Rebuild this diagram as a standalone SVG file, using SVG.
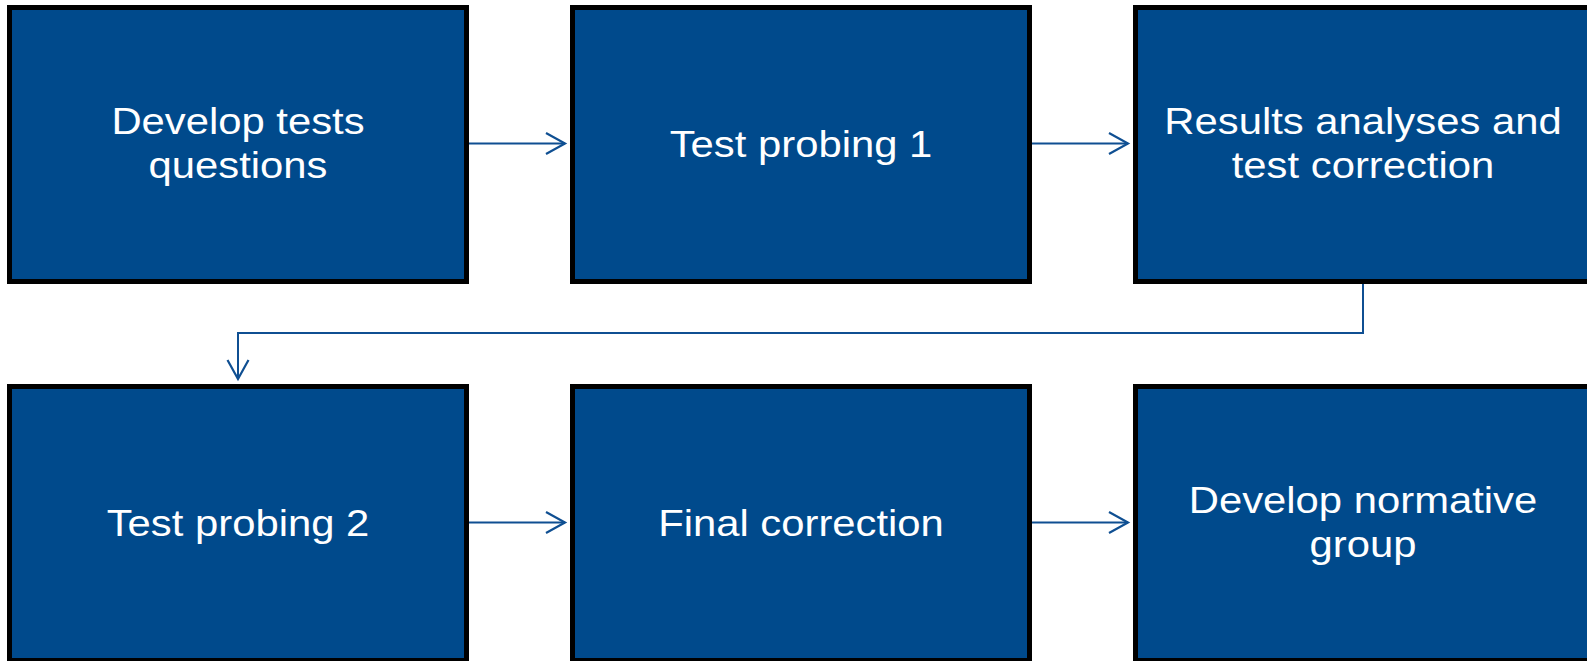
<svg xmlns="http://www.w3.org/2000/svg" width="1587" height="661" viewBox="0 0 1587 661">
<style>
.box{fill:#004A8C;stroke:#000;stroke-width:5}
.lbl{fill:#fff;font-family:"Liberation Sans",Arial,sans-serif;font-size:37px;text-anchor:middle}
.con{fill:none;stroke:#0F4F92;stroke-width:2}
</style>
<defs>
<marker id="ah" markerUnits="userSpaceOnUse" markerWidth="24" markerHeight="26" viewBox="-21 -12 24 24" refX="0" refY="0" orient="auto">
<path d="M-19,-10.5 L0,0 L-19,10.5" fill="none" stroke="#0F4F92" stroke-width="2.2"/>
</marker>
</defs>
<rect width="1587" height="661" fill="#fff"/>
<g id="connectors">
<line class="con" x1="469" y1="143.5" x2="565" y2="143.5" marker-end="url(#ah)"/>
<line class="con" x1="1032" y1="143.5" x2="1128" y2="143.5" marker-end="url(#ah)"/>
<polyline class="con" points="1363,284 1363,333 238,333 238,379" marker-end="url(#ah)"/>
<line class="con" x1="469" y1="522.5" x2="565" y2="522.5" marker-end="url(#ah)"/>
<line class="con" x1="1032" y1="522.5" x2="1128" y2="522.5" marker-end="url(#ah)"/>
</g>
<g id="n1">
<rect class="box" x="9.5" y="7.5" width="457" height="274"/>
<text class="lbl" transform="translate(238,134) scale(1.13,1)">Develop tests</text>
<text class="lbl" transform="translate(238,178) scale(1.13,1)">questions</text>
</g>
<g id="n2">
<rect class="box" x="572.5" y="7.5" width="457" height="274"/>
<text class="lbl" transform="translate(801,157) scale(1.13,1)">Test probing 1</text>
</g>
<g id="n3">
<rect class="box" x="1135.5" y="7.5" width="457" height="274"/>
<text class="lbl" transform="translate(1363,134) scale(1.13,1)">Results analyses and</text>
<text class="lbl" transform="translate(1363,178) scale(1.13,1)">test correction</text>
</g>
<g id="n4">
<rect class="box" x="9.5" y="386.5" width="457" height="274"/>
<text class="lbl" transform="translate(238,536) scale(1.13,1)">Test probing 2</text>
</g>
<g id="n5">
<rect class="box" x="572.5" y="386.5" width="457" height="274"/>
<text class="lbl" transform="translate(801,536) scale(1.13,1)">Final correction</text>
</g>
<g id="n6">
<rect class="box" x="1135.5" y="386.5" width="457" height="274"/>
<text class="lbl" transform="translate(1363,513) scale(1.13,1)">Develop normative</text>
<text class="lbl" transform="translate(1363,557) scale(1.13,1)">group</text>
</g>
</svg>
